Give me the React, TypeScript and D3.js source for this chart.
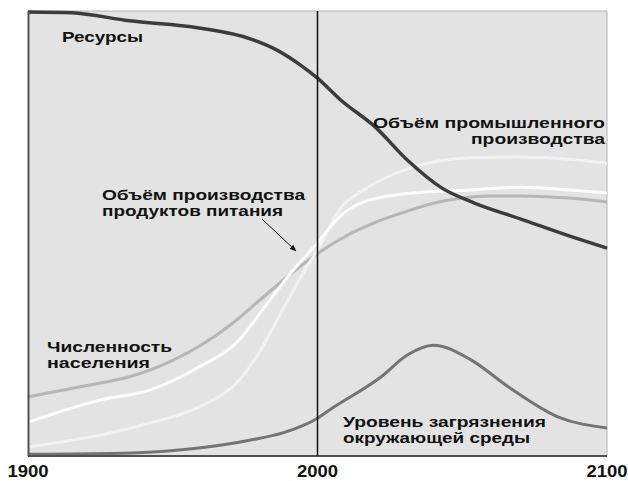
import React, { useEffect, useRef } from "react";
import * as d3 from "d3";

// years on the x axis, values in relative units (0..100)
const xTicks = [1900, 2000, 2100];

const resources: [number, number][] = [
  [1900, 99.8], [1915, 99.6], [1935, 97.8], [1959, 96.2], [1977, 93.7], [1986, 91.2],
  [1994, 87.9], [2000, 84.9], [2008, 80.0], [2020, 73.9], [2031, 66.5], [2043, 60.2],
  [2054, 56.9], [2070, 53.3], [2089, 49.0], [2100, 46.7],
];
const population: [number, number][] = [
  [1900, 13.3], [1920, 15.8], [1935, 17.8], [1950, 21.5], [1960, 25.0], [1970, 29.5],
  [1980, 35.0], [1990, 40.5], [2000, 45.5], [2010, 49.5], [2020, 52.5], [2030, 54.8],
  [2040, 56.8], [2050, 58.0], [2060, 58.4], [2070, 58.4], [2080, 58.2], [2090, 57.8], [2100, 57.1],
];
const food: [number, number][] = [
  [1900, 7.6], [1925, 12.6], [1942, 14.8], [1959, 20.0], [1973, 26.1], [1981, 32.8],
  [1991, 41.3], [2000, 47.9], [2008, 54.0], [2016, 57.1], [2033, 59.1], [2053, 59.8],
  [2070, 60.4], [2087, 59.8], [2100, 59.1],
];
const industry: [number, number][] = [
  [1900, 2.0], [1925, 4.7], [1942, 7.4], [1959, 11.0], [1973, 17.1], [1980, 23.4],
  [1987, 31.7], [1996, 42.2], [2000, 46.3], [2008, 55.7], [2016, 59.8], [2033, 64.9],
  [2053, 67.0], [2070, 67.2], [2087, 66.7], [2100, 65.8],
];
const pollution: [number, number][] = [
  [1900, 0.4], [1936, 0.7], [1959, 1.8], [1977, 3.6], [1988, 5.2], [2000, 8.5],
  [2004, 10.3], [2022, 17.8], [2031, 22.7], [2040, 24.9], [2053, 21.6], [2066, 15.5],
  [2083, 8.8], [2100, 6.3],
];

const series = [
  { data: pollution, color: "#747474", width: 3 },
  { data: population, color: "#b6b6b6", width: 3 },
  { data: industry, color: "#f2f2f2", width: 3 },
  { data: food, color: "#fcfcfc", width: 3 },
  { data: resources, color: "#3c3c3c", width: 3.5 },
];

// label text, anchor x, baseline y, width, anchor
const labels: [string, number, number, number, string][] = [
  ["Ресурсы", 62, 42, 81, "start"],
  ["Объём производства", 102, 200, 203, "start"],
  ["продуктов питания", 102, 216, 181, "start"],
  ["Объём промышленного", 605, 128, 232, "end"],
  ["производства", 605, 144, 134, "end"],
  ["Численность", 47, 352, 125, "start"],
  ["населения", 47, 368, 103, "start"],
  ["Уровень загрязнения", 343, 427, 203, "start"],
  ["окружающей среды", 343, 443, 187, "start"],
];

export default function App() {
  const ref = useRef<SVGSVGElement>(null);
  useEffect(() => {
    const node = ref.current;
    if (!node) return;
    const svg = d3.select(node);
    svg.selectAll("*").remove();
    const w = 628, h = 481, m = { t: 11, r: 21, b: 25, l: 28 };
    const x = d3.scaleLinear().domain([1900, 2100]).range([m.l, w - m.r]);
    const y = d3.scaleLinear().domain([0, 100]).range([h - m.b, m.t]);
    const font = "'Liberation Sans', Arial, sans-serif";

    svg.append("rect").attr("width", w).attr("height", h).attr("fill", "#fff");
    svg.append("rect")
      .attr("x", m.l).attr("y", m.t)
      .attr("width", w - m.r - m.l).attr("height", h - m.b - m.t)
      .attr("fill", "#e3e3e3");
    // frame: light top/right, dark left/bottom
    const g = svg.append("g");
    g.append("line").attr("x1", m.l).attr("x2", w - m.r).attr("y1", m.t).attr("y2", m.t).attr("stroke", "#b4b4b4");
    g.append("line").attr("x1", w - m.r).attr("x2", w - m.r).attr("y1", m.t).attr("y2", h - m.b).attr("stroke", "#b4b4b4");

    const line = d3.line<[number, number]>()
      .x((d) => x(d[0])).y((d) => y(d[1]))
      .curve(d3.curveMonotoneX);
    series.forEach((s) => {
      g.append("path").attr("d", line(s.data)).attr("fill", "none")
        .attr("stroke", s.color).attr("stroke-width", s.width).attr("stroke-linejoin", "round");
    });

    g.append("line").attr("x1", m.l + 0.5).attr("x2", m.l + 0.5).attr("y1", m.t).attr("y2", h - m.b).attr("stroke", "#505050").attr("stroke-width", 2);
    g.append("line").attr("x1", m.l).attr("x2", w - m.r).attr("y1", h - m.b).attr("y2", h - m.b).attr("stroke", "#505050").attr("stroke-width", 2);
    g.append("line").attr("x1", x(2000)).attr("x2", x(2000)).attr("y1", m.t).attr("y2", h - m.b).attr("stroke", "#111").attr("stroke-width", 1.5);

    // arrow to the food curve
    svg.append("defs").append("marker").attr("id", "ah").attr("viewBox", "0 0 10 10")
      .attr("refX", 9).attr("refY", 5).attr("markerWidth", 7).attr("markerHeight", 7).attr("orient", "auto")
      .append("path").attr("d", "M0,1L10,5L0,9Z").attr("fill", "#111");
    g.append("line").attr("x1", 262).attr("y1", 219).attr("x2", 296).attr("y2", 251)
      .attr("stroke", "#111").attr("stroke-width", 1).attr("marker-end", "url(#ah)");

    labels.forEach(([t, lx, ly, len, anchor]) => {
      g.append("text").attr("x", lx).attr("y", ly).attr("text-anchor", anchor)
        .attr("font-family", font).attr("font-weight", "bold").attr("font-size", 15.5)
        .attr("textLength", len).attr("lengthAdjust", "spacingAndGlyphs")
        .attr("fill", "#111").text(t);
    });

    xTicks.forEach((t) => {
      g.append("text").attr("x", x(t)).attr("y", 477).attr("text-anchor", "middle")
        .attr("font-family", font).attr("font-weight", "bold").attr("font-size", 16)
        .attr("textLength", 41).attr("lengthAdjust", "spacingAndGlyphs")
        .attr("fill", "#111").text(t);
    });
  }, []);
  return (
    <svg ref={ref} width={628} height={481}
      style={{ position: "absolute", left: 0, top: 0, display: "block" }} />
  );
}
